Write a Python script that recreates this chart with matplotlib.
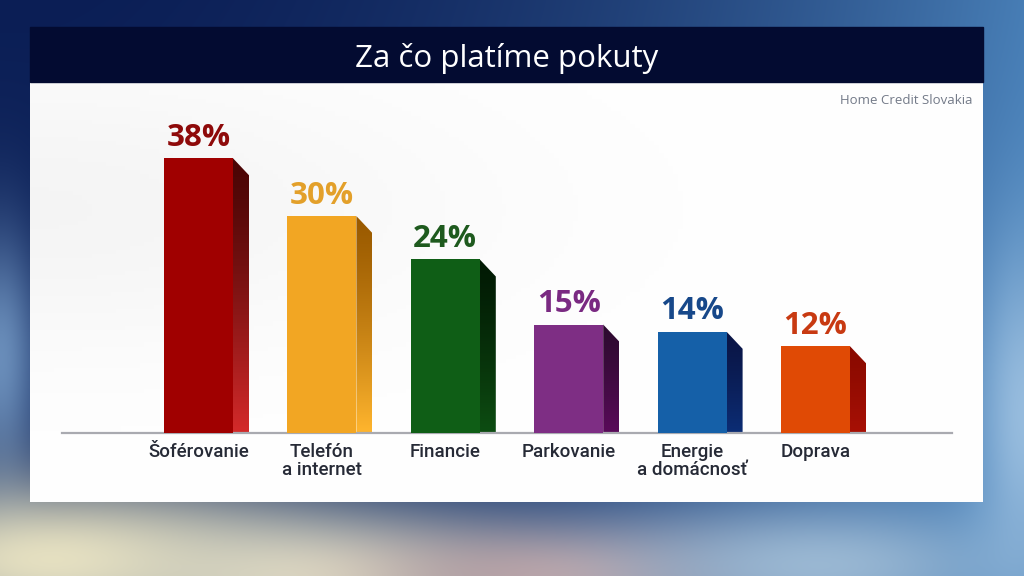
import numpy as np
import matplotlib
matplotlib.use("Agg")
import matplotlib.pyplot as plt
from matplotlib.patches import Polygon, Rectangle
from matplotlib.colors import to_rgb

# data
categories = ["Šoférovanie", "Telefón\na internet", "Financie", "Parkovanie",
              "Energie\na domácnosť", "Doprava"]
values = [38, 30, 24, 15, 14, 12]
value_labels = ["38%", "30%", "24%", "15%", "14%", "12%"]

front_colors = ["#A00000", "#F2A623", "#0F5E16", "#7E2E84", "#1560A8", "#E04A05"]
side_top = ["#4A0505", "#9A5A00", "#021A04", "#2E0A30", "#0A1545", "#8A0A00"]
side_bot = ["#D42A2A", "#FFB52E", "#0D4D12", "#5A0A5A", "#0C2D75", "#A81005"]
label_colors = ["#8E0A0A", "#E3A02A", "#1E5A1E", "#7A2A82", "#17488A", "#C83A12"]

title = "Za čo platíme pokuty"
source = "Home Credit Slovakia"

W, H = 1024, 576
fig = plt.figure(figsize=(W / 100, H / 100), dpi=100)

# background (pixel coordinate overlay)
bg = fig.add_axes([0, 0, 1, 1])
bg.set_xlim(0, W)
bg.set_ylim(H, 0)
bg.axis("off")

yy, xx = np.mgrid[0:H, 0:W] / np.array([H, W])[:, None, None]
img = np.zeros((H, W, 3))
navy = np.array(to_rgb("#0B1E55"))
blue = np.array(to_rgb("#4A82BA"))
t = np.clip(xx ** 2.0 * 0.95 + yy * 0.15, 0, 1)[..., None]
img[:] = navy * (1 - t) + blue * t


def blob(cx, cy, sx, sy, col, strength=1.0):
    g = np.exp(-(((xx - cx) / sx) ** 2 + ((yy - cy) / sy) ** 2))[..., None] * strength
    c = np.array(to_rgb(col))
    return g, c


for cx, cy, sx, sy, col, s in [
    (0.00, 0.62, 0.04, 0.22, "#7FA6D0", 0.8),
    (0.05, 0.97, 0.25, 0.14, "#EFE8C4", 0.95),
    (0.30, 1.00, 0.20, 0.11, "#E6E2C8", 0.9),
    (0.55, 1.00, 0.18, 0.09, "#CDA9A6", 0.85),
    (0.80, 0.98, 0.20, 0.11, "#A2BFD8", 0.9),
    (1.00, 0.72, 0.05, 0.30, "#A4C6E4", 0.85),
]:
    g, c = blob(cx, cy, sx, sy, col, s)
    img = img * (1 - g) + c * g
bg.imshow(np.clip(img, 0, 1), extent=[0, W, H, 0], aspect="auto", zorder=0)

# white panel with a very faint gray haze at the top left
pw = np.linspace(0, 1, 200)
panel = np.ones((100, 200, 3))
haze = np.exp(-(pw[None, :] / 0.45) ** 2) * np.exp(-((np.linspace(0, 1, 100)[:, None] - 0.3) / 0.35) ** 2)
panel -= haze[..., None] * 0.04
bg.imshow(panel, extent=[30, 983, 502, 82], aspect="auto", zorder=1)

# title bar
bg.add_patch(Rectangle((30, 27), 953, 55, color="#030B31", zorder=2))
bg.text(507, 58, title, color="white", fontsize=22.5, family="Open Sans",
        ha="center", va="center", zorder=3)
bg.text(972, 100, source, color="#737A88", fontsize=9.5, family="Open Sans",
        ha="right", va="center", zorder=3)

# chart axes
px_per_unit = 123.4
ax = fig.add_axes([62 / W, (H - 433) / H, (952 - 62) / W, 361.5 / H])
ax.set_facecolor("none")
ax.set_xlim((62 - 198.5) / px_per_unit, (952 - 198.5) / px_per_unit)
ax.set_ylim(0, 50)
x = np.arange(len(values))
bw = 69 / px_per_unit
dx = 16 / px_per_unit
dy = 17 / 7.23

ax.bar(x, values, width=bw, color=front_colors, zorder=3)

for i, v in enumerate(values):
    xr = x[i] + bw / 2
    poly = Polygon([(xr, v), (xr + dx, v - dy), (xr + dx, 0), (xr, 0)],
                   closed=True, facecolor="none", edgecolor="none")
    ax.add_patch(poly)
    c0 = np.array(to_rgb(side_top[i]))
    c1 = np.array(to_rgb(side_bot[i]))
    s = np.linspace(0, 1, 100)[:, None, None] ** 1.3
    grad = c0 * (1 - s) + c1 * s
    im = ax.imshow(grad, extent=[xr, xr + dx, 0, v], aspect="auto",
                   origin="upper", zorder=2.5)
    im.set_clip_path(poly)
    ax.annotate(value_labels[i], (x[i], v), xytext=(0, 4), textcoords="offset points",
                ha="center", va="bottom", fontsize=22.5, fontweight="bold",
                family="Open Sans", color=label_colors[i], zorder=4)

ax.set_xticks(x)
ax.set_xticklabels(categories, fontsize=13.5, family="Roboto", fontweight="medium",
                   color="#262A36", linespacing=1.05)
ax.tick_params(axis="x", length=0, pad=7)
ax.set_yticks([])
for sp in ["top", "left", "right"]:
    ax.spines[sp].set_visible(False)
ax.spines["bottom"].set_color("#A9AAB0")
ax.spines["bottom"].set_linewidth(1.6)

fig.savefig("out.png", dpi=100)
